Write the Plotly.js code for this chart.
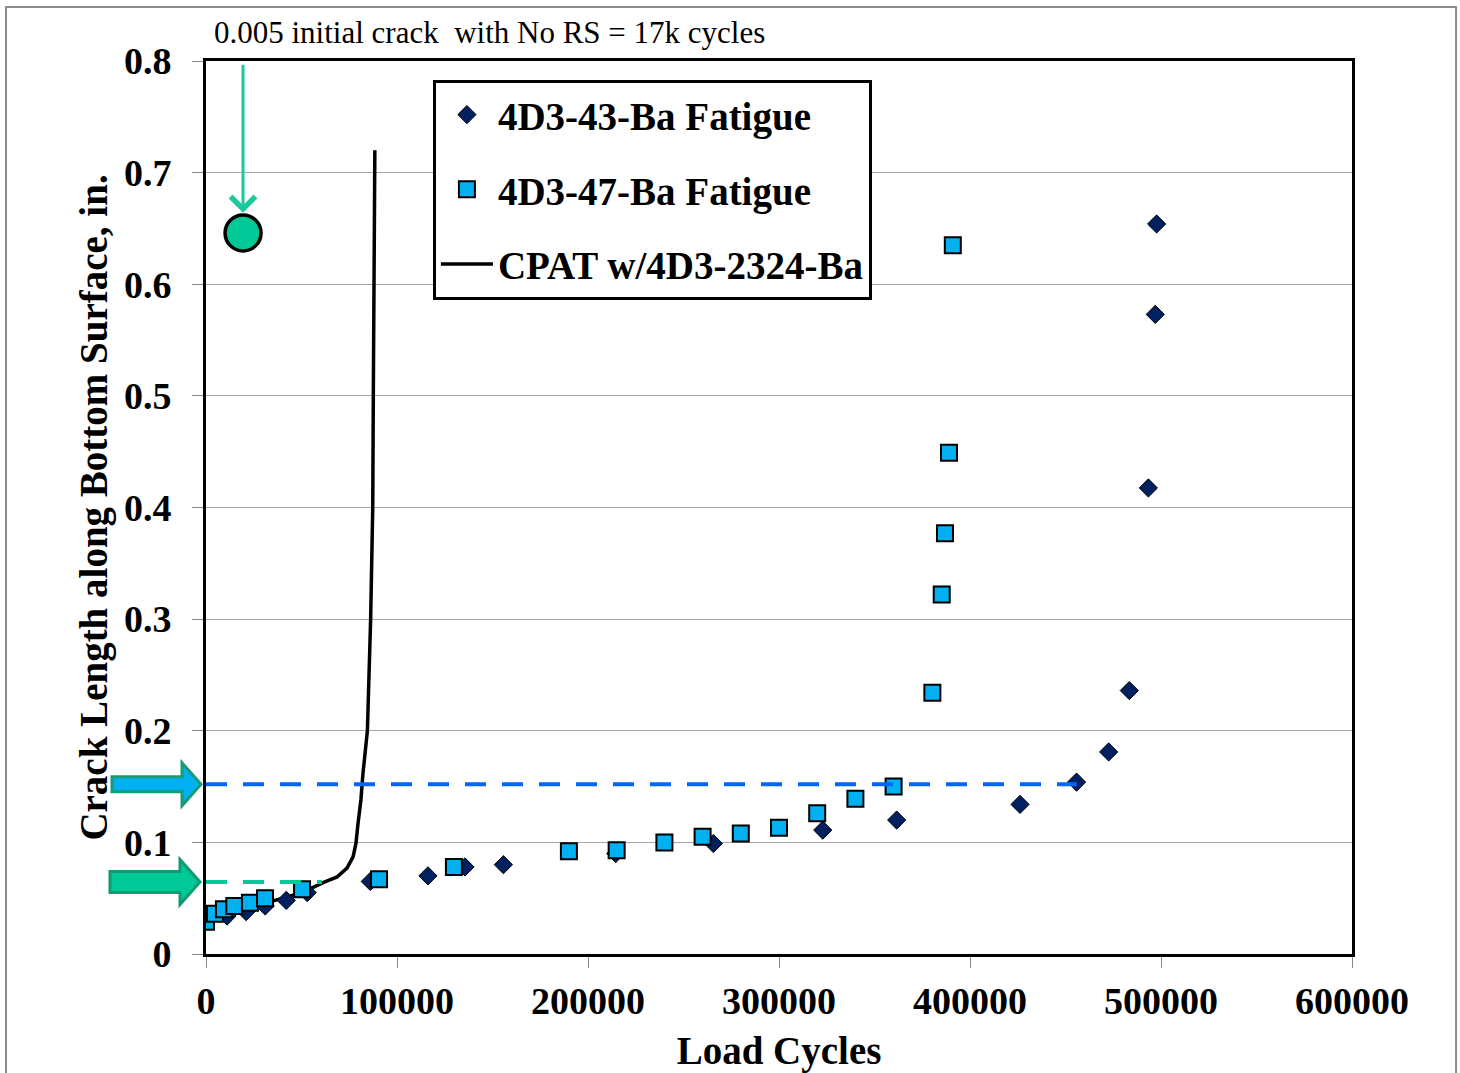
<!DOCTYPE html>
<html><head><meta charset="utf-8">
<script src="https://cdn.plot.ly/plotly-3.0.1.min.js"></script>
<style>html,body{margin:0;padding:0;background:#fff}#chart{width:1460px;height:1073px}</style>
</head><body><div id="chart"></div>
<script>
// ---- data ----
const cycles43 = [0, 11000, 21000, 31000, 42000, 53000, 86000, 116200, 135600, 155700, 214500, 265600, 322900, 361600, 426200, 455800, 472600, 483400, 493400, 497000, 497700];
const crack43  = [0.030, 0.034, 0.038, 0.043, 0.048, 0.055, 0.065, 0.070, 0.078, 0.080, 0.090, 0.099, 0.111, 0.120, 0.134, 0.154, 0.181, 0.236, 0.4175, 0.573, 0.654];

const cycles47 = [0, 4700, 9400, 14800, 23000, 30900, 50300, 90600, 129800, 190000, 215000, 240000, 260000, 280000, 300000, 320000, 340000, 360000, 380300, 385200, 386900, 389000, 391000];
const crack47  = [0.029, 0.036, 0.040, 0.043, 0.046, 0.050, 0.058, 0.067, 0.078, 0.092, 0.093, 0.100, 0.105, 0.108, 0.113, 0.126, 0.139, 0.150, 0.234, 0.322, 0.377, 0.449, 0.635];

const cpatCycles = [0, 10000, 20000, 30000, 40000, 50000, 55300, 61300, 68600, 73800, 77000, 78500, 79600, 81100, 82200, 83800, 84500, 86200, 87300, 87600, 88000, 88300, 88400];
const cpatCrack  = [0.030, 0.035, 0.040, 0.045, 0.050, 0.055, 0.059, 0.064, 0.069, 0.077, 0.087, 0.099, 0.117, 0.138, 0.162, 0.185, 0.200, 0.300, 0.400, 0.500, 0.600, 0.700, 0.720];

const noRsCycles = [19400];
const noRsCrack  = [0.646];
const arrowTopCrack = 0.798;
const arrowTipCrack = 0.664;

const blueLevel = 0.152, blueEnd = 455800;
const tealLevel = 0.0645, tealEnd = 60700;

const xTicks = [0, 100000, 200000, 300000, 400000, 500000, 600000];
const yTicks = [0, 0.1, 0.2, 0.3, 0.4, 0.5, 0.6, 0.7, 0.8];
const xRange = [0, 600000], yRange = [0, 0.8];

const names = ['4D3-43-Ba Fatigue', '4D3-47-Ba Fatigue', 'CPAT w/4D3-2324-Ba'];
const noteText = '0.005 initial crack  with No RS = 17k cycles';
const xTitle = 'Load Cycles';
const yTitle = 'Crack Length along Bottom Surface, in.';

// ---- drawing ----
const SERIF = 'Liberation Serif, Times New Roman, serif';
const TEAL = '#00C896';

const traces = [
  {x: cpatCycles, y: cpatCrack, type: 'scatter', mode: 'lines', name: names[2],
   line: {color: '#000', width: 3.5}, legendgroup: 'c', legendrank: 3},
  {x: cycles43, y: crack43, type: 'scatter', mode: 'markers', name: names[0],
   marker: {symbol: 'diamond', size: 14, color: '#002060', line: {color: '#000', width: 1}},
   legendgroup: 'a', legendrank: 1},
  {x: cycles47, y: crack47, type: 'scatter', mode: 'markers', name: names[1],
   marker: {symbol: 'square', size: 16, color: '#00B0F0', line: {color: '#000', width: 2}},
   legendgroup: 'b', legendrank: 2},
  {x: noRsCycles, y: noRsCrack, type: 'scatter', mode: 'markers', showlegend: false,
   marker: {symbol: 'circle', size: 36, color: TEAL, line: {color: '#000', width: 3.5}}, cliponaxis: false}
];

function yPaper(v){ return (v - yRange[0]) / (yRange[1] - yRange[0]); }

const blockArrow = (level, tip, base, left, sh, hh, fill, border) => ({
  type: 'path', xref: 'paper', yref: 'paper', xsizemode: 'pixel', ysizemode: 'pixel',
  xanchor: 0, yanchor: yPaper(level),
  path: `M ${left},${sh} L ${base},${sh} L ${base},${hh} L ${tip},0 L ${base},${-hh} L ${base},${-sh} L ${left},${-sh} Z`,
  fillcolor: fill, line: {color: border, width: 3}, layer: 'above'
});

const layout = {
  width: 1460, height: 1073,
  margin: {l: 206, r: 108, t: 61, b: 119},
  paper_bgcolor: '#fff', plot_bgcolor: '#fff',
  font: {family: SERIF, color: '#000'},
  showlegend: true,
  legend: {x: 0.198, y: 0.979, xanchor: 'left', yanchor: 'top',
    bgcolor: '#fff', bordercolor: '#000', borderwidth: 3,
    font: {family: SERIF, size: 39, weight: 'bold', color: '#000'},
    traceorder: 'grouped', tracegroupgap: 21, itemwidth: 52},
  xaxis: {range: xRange, tickvals: xTicks, tickformat: 'd', showgrid: false, zeroline: false,
    showline: true, mirror: true, linecolor: '#000', linewidth: 3,
    ticks: 'outside', ticklen: 11, tickcolor: '#888', tickwidth: 1, ticklabelstandoff: 0,
    tickfont: {family: SERIF, size: 38, weight: 'bold'},
    title: {text: xTitle, font: {family: SERIF, size: 39, weight: 'bold'}, standoff: 22}},
  yaxis: {range: yRange, tickvals: yTicks, showgrid: true, gridcolor: '#A6A6A6', gridwidth: 1, zeroline: false,
    showline: true, mirror: true, linecolor: '#000', linewidth: 3,
    ticks: 'outside', ticklen: 11, tickcolor: '#888', tickwidth: 1, ticklabelstandoff: 13,
    tickfont: {family: SERIF, size: 38, weight: 'bold'},
    title: {text: yTitle, font: {family: SERIF, size: 39, weight: 'bold'}, standoff: 5}},
  shapes: [
    {type: 'line', xref: 'x', yref: 'y', x0: xRange[0], x1: blueEnd, y0: blueLevel, y1: blueLevel,
     line: {color: '#0066FF', width: 4, dash: '21px,16px'}, layer: 'above'},
    {type: 'line', xref: 'x', yref: 'y', x0: xRange[0], x1: tealEnd, y0: tealLevel, y1: tealLevel,
     line: {color: TEAL, width: 4, dash: '21px,16px'}, layer: 'above'},
    blockArrow(blueLevel, -5, -24, -94, 7.5, 21.5, '#00B0F0', '#169B77'),
    blockArrow(tealLevel, -6, -26, -96, 10.5, 22.5, TEAL, '#129A72'),
    {type: 'rect', xref: 'paper', yref: 'paper', x0: -0.1745, x1: 1.0908, y0: -0.16, y1: 1.0605,
     line: {color: '#8C8C8C', width: 2}, fillcolor: 'rgba(0,0,0,0)', layer: 'below'}
  ],
  annotations: [
    {xref: 'x', yref: 'y', axref: 'x', ayref: 'y', x: noRsCycles[0], y: arrowTipCrack,
     ax: noRsCycles[0], ay: arrowTopCrack, text: '', showarrow: true,
     arrowhead: 4, arrowsize: 1.6, arrowwidth: 3, arrowcolor: '#1CC99A', standoff: 0, startstandoff: 0},
    {xref: 'paper', yref: 'paper', x: 0.005, y: 1.0, xanchor: 'left', yanchor: 'bottom', yshift: 9,
     text: noteText, showarrow: false, font: {family: SERIF, size: 31, color: '#000'}}
  ]
};

Plotly.newPlot('chart', traces, layout, {displayModeBar: false, responsive: false});
</script>
</body></html>
